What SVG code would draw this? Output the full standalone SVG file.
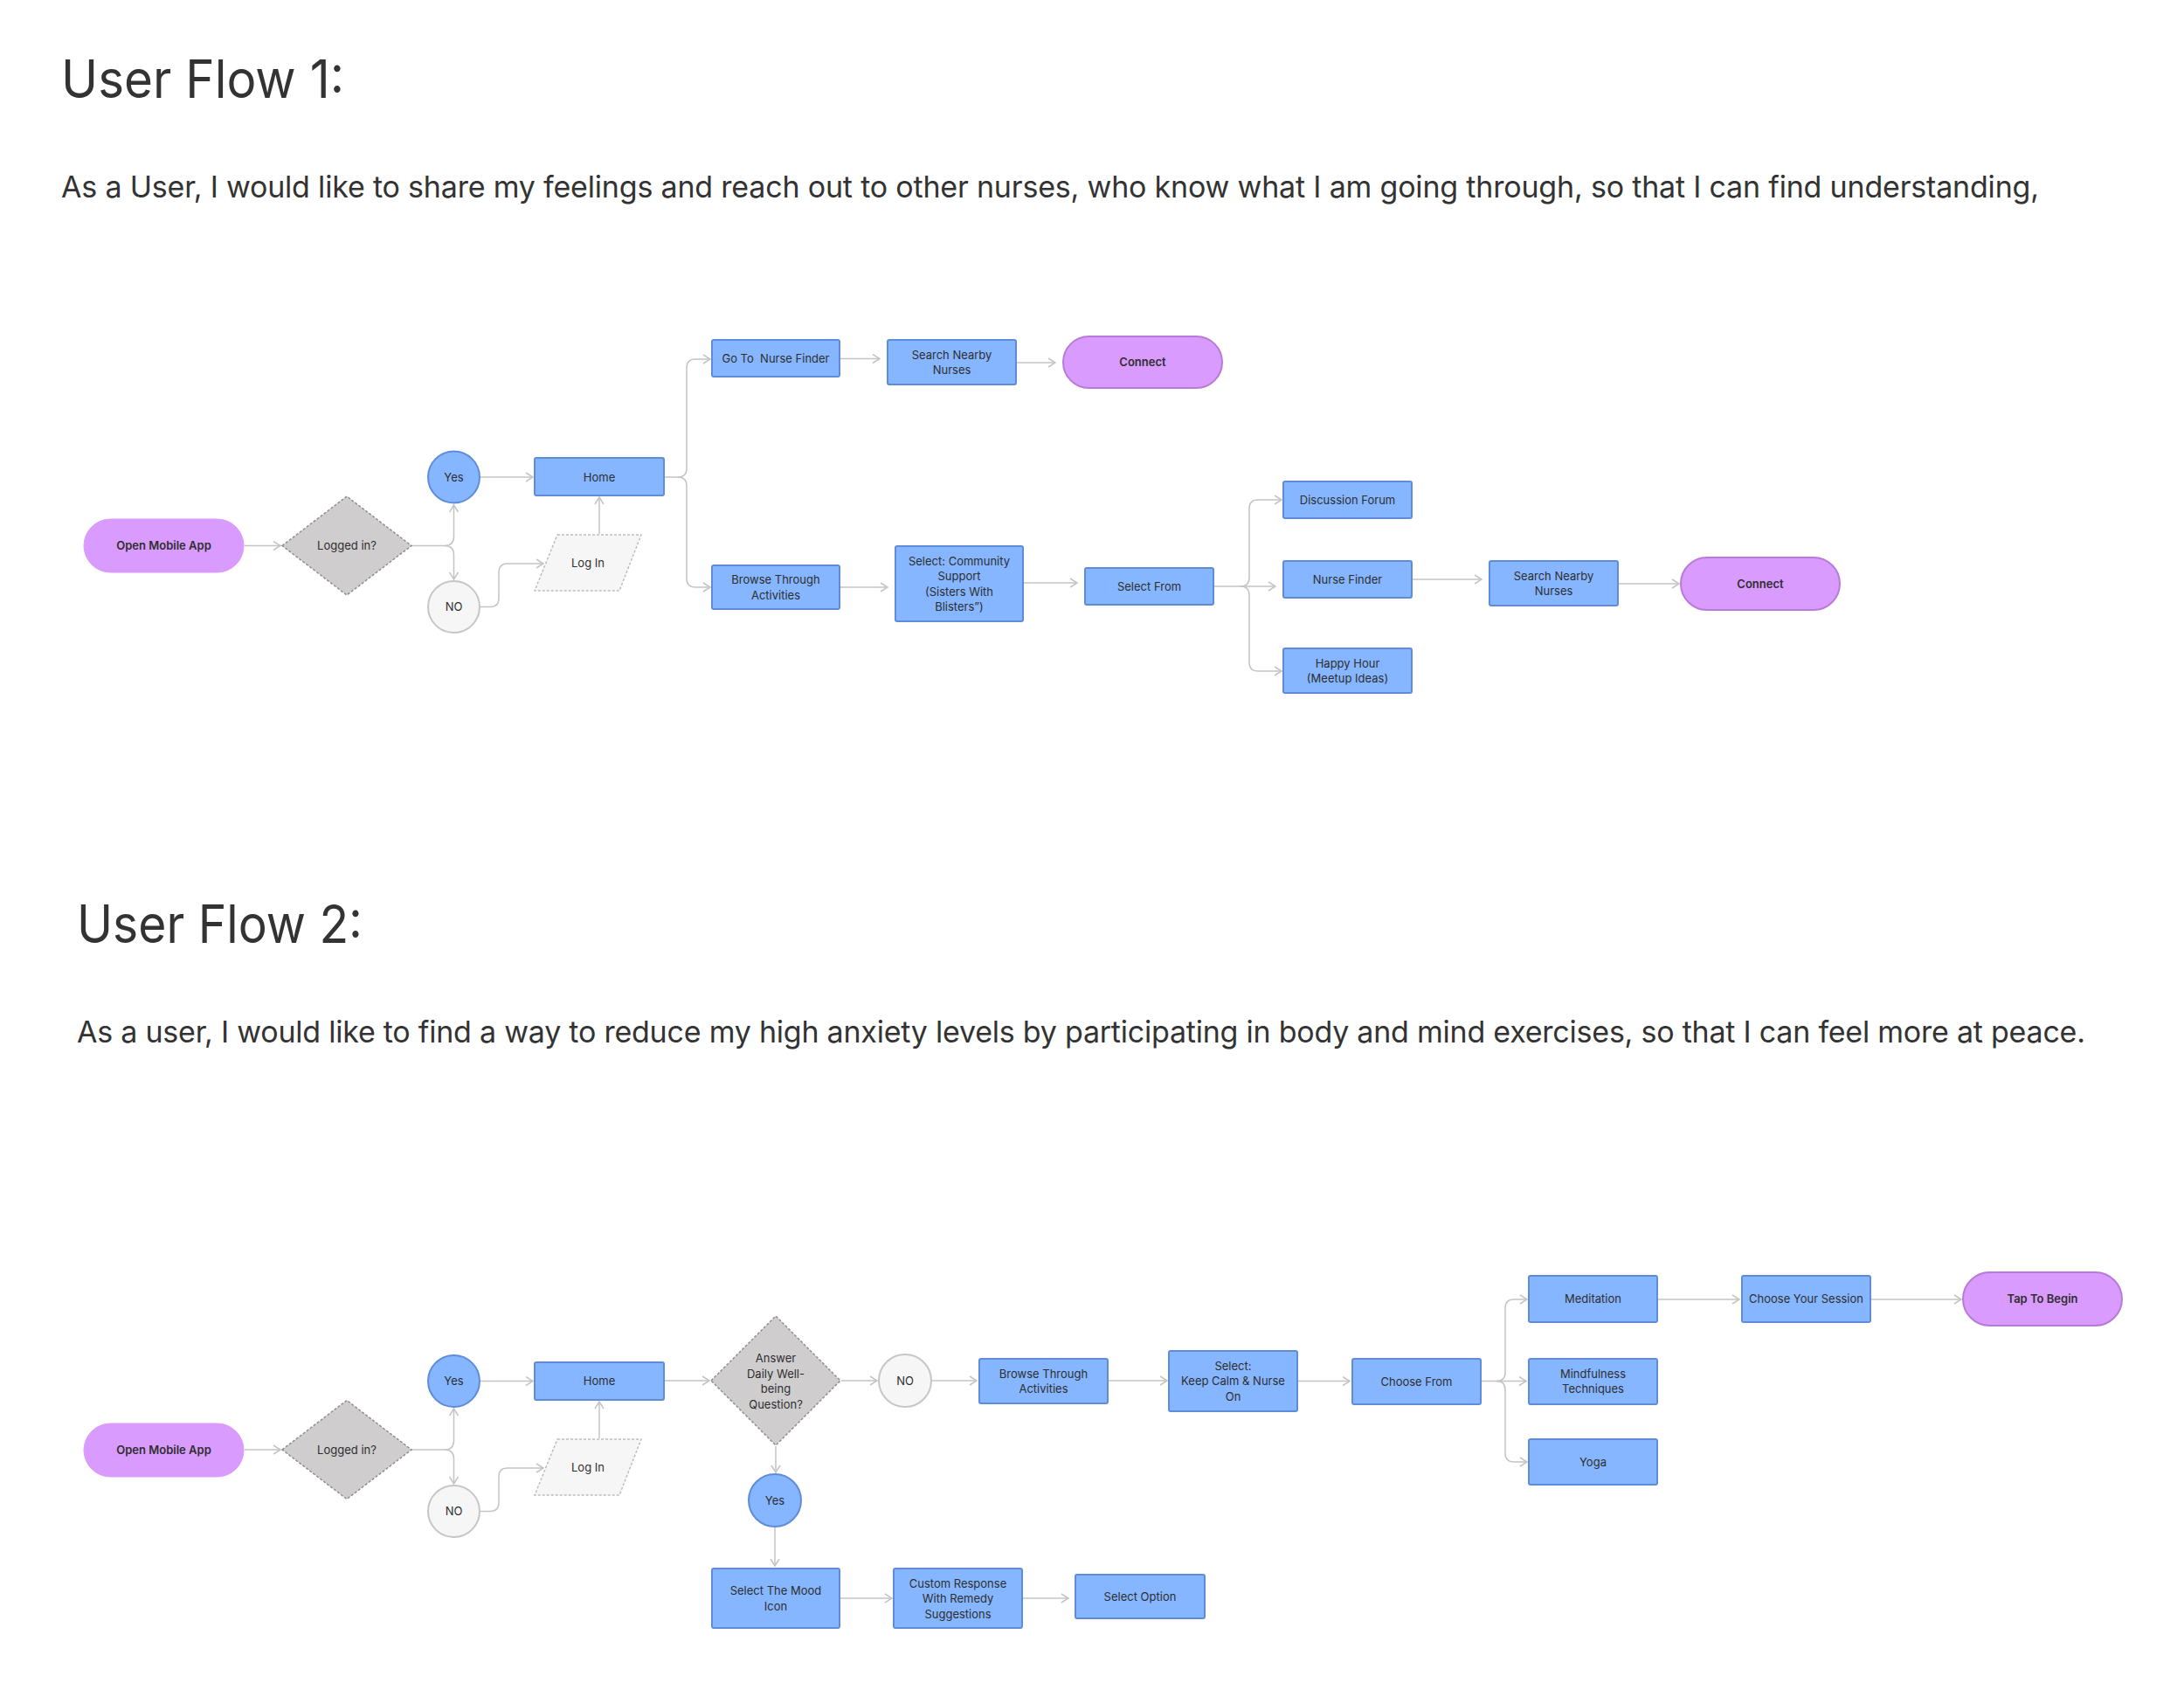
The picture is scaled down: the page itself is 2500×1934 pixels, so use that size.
<svg xmlns="http://www.w3.org/2000/svg" width="2500" height="1934" viewBox="0 0 2500 1934">
<defs>
<marker id="arr" viewBox="0 0 10 12" markerWidth="10" markerHeight="12" refX="9" refY="6" orient="auto" markerUnits="userSpaceOnUse">
<path d="M1,1 L9,6 L1,11" fill="none" stroke="#C4C4C4" stroke-width="1.5"/>
</marker>
<style>
text{font-family:Inter,"Noto Sans","Liberation Sans",sans-serif;fill:#2E2E2E}
.title{font-size:60px;fill:#333}
.sub{font-size:34px;fill:#333}
.lbl{font-size:13px;text-anchor:middle}
.bold{font-weight:600}
.box{fill:#86B6FF;stroke:#5E8CD8;stroke-width:2}
.pill{fill:#DA9BFF;stroke:#B87AD8;stroke-width:2}
.pill0{fill:#DA9BFF;stroke:#DA9BFF;stroke-width:1}
.yes{fill:#86B6FF;stroke:#5E8CD8;stroke-width:2}
.no{fill:#F6F6F6;stroke:#C6C6C6;stroke-width:2}
.dia{fill:#CFCDCE;stroke:#8E8E8E;stroke-width:1.5;stroke-dasharray:3 2}
.para{fill:#F6F6F6;stroke:#BDBDBD;stroke-width:1.5;stroke-dasharray:3 2}
.c{fill:none;stroke:#C4C4C4;stroke-width:1.5;marker-end:url(#arr)}
</style>
</defs>
<rect width="2500" height="1934" fill="#FFFFFF"/>

<text class="title" x="70" y="112" textLength="324" lengthAdjust="spacingAndGlyphs">User Flow 1:</text>
<text class="sub" x="70" y="226" textLength="2264">As a User, I would like to share my feelings and reach out to other nurses, who know what I am going through, so that I can find understanding,</text>
<text class="title" x="88" y="1079" textLength="327" lengthAdjust="spacingAndGlyphs">User Flow 2:</text>
<text class="sub" x="88" y="1193" textLength="2299">As a user, I would like to find a way to reduce my high anxiety levels by participating in body and mind exercises, so that I can feel more at peace.</text>

<g id="connectors">
<!-- flow 1 -->
<path class="c" d="M280,624.5 H321"/>
<path class="c" d="M471,624.5 H509 Q519.5,624.5 519.5,614 V578"/>
<path class="c" d="M509,624.5 Q519.5,624.5 519.5,635 V663"/>
<path class="c" d="M550,546 H610"/>
<path class="c" d="M550,694.5 H561 Q571,694.5 571,684.5 V655 Q571,645 581,645 H622"/>
<path class="c" d="M686,611 V569"/>
<path class="c" d="M761,546 H776 Q786,546 786,536 V421 Q786,411 796,411 H813"/>
<path class="c" d="M776,546 Q786,546 786,556 V662 Q786,672 796,672 H813"/>
<path class="c" d="M962,410.5 H1007"/>
<path class="c" d="M1164,415 H1208"/>
<path class="c" d="M962,672 H1016"/>
<path class="c" d="M1172,667 H1233"/>
<path class="c" d="M1390,671 H1420 Q1430,671 1430,661 V582 Q1430,572 1440,572 H1467"/>
<path class="c" d="M1420,671 H1460"/>
<path class="c" d="M1420,671 Q1430,671 1430,681 V758 Q1430,768 1440,768 H1467"/>
<path class="c" d="M1617,663 H1696"/>
<path class="c" d="M1853,668 H1922"/>
<!-- flow 2 -->
<path class="c" d="M280,1659 H321"/>
<path class="c" d="M471,1659 H509 Q519.5,1659 519.5,1648.5 V1612"/>
<path class="c" d="M509,1659 Q519.5,1659 519.5,1669.5 V1698"/>
<path class="c" d="M550,1580.5 H610"/>
<path class="c" d="M550,1729.5 H561 Q571,1729.5 571,1719.5 V1690 Q571,1680 581,1680 H622"/>
<path class="c" d="M686,1646 V1604"/>
<path class="c" d="M761,1580 H812"/>
<path class="c" d="M963,1580 H1004"/>
<path class="c" d="M1067,1580 H1118"/>
<path class="c" d="M1269,1580 H1336"/>
<path class="c" d="M1486,1580.5 H1545"/>
<path class="c" d="M1696,1580.5 H1713 Q1723,1580.5 1723,1570.5 V1497 Q1723,1487 1733,1487 H1748"/>
<path class="c" d="M1713,1580.5 H1747"/>
<path class="c" d="M1713,1580.5 Q1723,1580.5 1723,1590.5 V1663 Q1723,1673 1733,1673 H1748"/>
<path class="c" d="M1898,1487 H1991"/>
<path class="c" d="M2142,1487 H2245"/>
<path class="c" d="M888,1655 V1685"/>
<path class="c" d="M887,1748 V1792"/>
<path class="c" d="M962,1829 H1021"/>
<path class="c" d="M1171,1829 H1223"/>
</g>

<!-- Flow 1 nodes -->
<g id="f1-open"><rect class="pill0" x="96" y="594" width="183" height="61" rx="30.5"/><text class="lbl bold" x="187.5" y="629">Open Mobile App</text></g>
<g id="f1-logged"><polygon class="dia" points="323,624.5 397,568 471,624.5 397,681"/><text class="lbl" x="397" y="629">Logged in?</text></g>
<g id="f1-yes"><circle class="yes" cx="519.5" cy="546" r="29.5"/><text class="lbl" x="519.5" y="550.5">Yes</text></g>
<g id="f1-no"><circle class="no" cx="519.5" cy="694.5" r="29.5"/><text class="lbl" x="519.5" y="699">NO</text></g>
<g id="f1-home"><rect class="box" x="612" y="524" width="148" height="43" rx="2"/><text class="lbl" x="686" y="550.5">Home</text></g>
<g id="f1-login"><polygon class="para" points="638,612 734,612 709,676 612,676"/><text class="lbl" x="673" y="649">Log In</text></g>
<g id="f1-goto"><rect class="box" x="815" y="389" width="146" height="42" rx="2"/><text class="lbl" x="888" y="415" xml:space="preserve">Go To  Nurse Finder</text></g>
<g id="f1-search1"><rect class="box" x="1016" y="389" width="147" height="51" rx="2"/><text class="lbl" x="1089.5" y="410.5">Search Nearby</text><text class="lbl" x="1089.5" y="428">Nurses</text></g>
<g id="f1-connect1"><rect class="pill" x="1217" y="385" width="182" height="59" rx="29.5"/><text class="lbl bold" x="1308" y="419">Connect</text></g>
<g id="f1-browse"><rect class="box" x="815" y="647" width="146" height="50" rx="2"/><text class="lbl" x="888" y="668">Browse Through</text><text class="lbl" x="888" y="685.5">Activities</text></g>
<g id="f1-community"><rect class="box" x="1025" y="625" width="146" height="86" rx="2"/><text class="lbl" x="1098" y="646.5">Select: Community</text><text class="lbl" x="1098" y="664">Support</text><text class="lbl" x="1098" y="681.5">(Sisters With</text><text class="lbl" x="1098" y="699">Blisters”)</text></g>
<g id="f1-selectfrom"><rect class="box" x="1242" y="650" width="147" height="42" rx="2"/><text class="lbl" x="1315.5" y="675.5">Select From</text></g>
<g id="f1-forum"><rect class="box" x="1469" y="551" width="147" height="42" rx="2"/><text class="lbl" x="1542.5" y="576.5">Discussion Forum</text></g>
<g id="f1-nursefinder"><rect class="box" x="1469" y="642" width="147" height="42" rx="2"/><text class="lbl" x="1542.5" y="667.5">Nurse Finder</text></g>
<g id="f1-happyhour"><rect class="box" x="1469" y="742" width="147" height="51" rx="2"/><text class="lbl" x="1542.5" y="763.5">Happy Hour</text><text class="lbl" x="1542.5" y="781">(Meetup Ideas)</text></g>
<g id="f1-search2"><rect class="box" x="1705" y="642" width="147" height="51" rx="2"/><text class="lbl" x="1778.5" y="663.5">Search Nearby</text><text class="lbl" x="1778.5" y="681">Nurses</text></g>
<g id="f1-connect2"><rect class="pill" x="1924" y="638" width="182" height="60" rx="30"/><text class="lbl bold" x="2015" y="672.5">Connect</text></g>

<!-- Flow 2 nodes -->
<g id="f2-open"><rect class="pill0" x="96" y="1629" width="183" height="61" rx="30.5"/><text class="lbl bold" x="187.5" y="1663.5">Open Mobile App</text></g>
<g id="f2-logged"><polygon class="dia" points="323,1659 397,1602.5 471,1659 397,1715.5"/><text class="lbl" x="397" y="1663.5">Logged in?</text></g>
<g id="f2-yes"><circle class="yes" cx="519.5" cy="1580.5" r="29.5"/><text class="lbl" x="519.5" y="1585">Yes</text></g>
<g id="f2-no"><circle class="no" cx="519.5" cy="1729.5" r="29.5"/><text class="lbl" x="519.5" y="1734">NO</text></g>
<g id="f2-home"><rect class="box" x="612" y="1559" width="148" height="43" rx="2"/><text class="lbl" x="686" y="1585">Home</text></g>
<g id="f2-login"><polygon class="para" points="638,1647 734,1647 709,1711 612,1711"/><text class="lbl" x="673" y="1684">Log In</text></g>
<g id="f2-answer"><polygon class="dia" points="814,1580 888,1506 962,1580 888,1654"/><text class="lbl" x="888" y="1559">Answer</text><text class="lbl" x="888" y="1576.5">Daily Well-</text><text class="lbl" x="888" y="1594">being</text><text class="lbl" x="888" y="1611.5">Question?</text></g>
<g id="f2-no2"><circle class="no" cx="1036" cy="1580" r="30"/><text class="lbl" x="1036" y="1584.5">NO</text></g>
<g id="f2-browse"><rect class="box" x="1121" y="1555" width="147" height="51" rx="2"/><text class="lbl" x="1194.5" y="1576.5">Browse Through</text><text class="lbl" x="1194.5" y="1594">Activities</text></g>
<g id="f2-keepcalm"><rect class="box" x="1338" y="1546" width="147" height="69" rx="2"/><text class="lbl" x="1411.5" y="1567.5">Select:</text><text class="lbl" x="1411.5" y="1585">Keep Calm &amp; Nurse</text><text class="lbl" x="1411.5" y="1602.5">On</text></g>
<g id="f2-choosefrom"><rect class="box" x="1548" y="1555" width="147" height="52" rx="2"/><text class="lbl" x="1621.5" y="1585.5">Choose From</text></g>
<g id="f2-meditation"><rect class="box" x="1750" y="1460" width="147" height="53" rx="2"/><text class="lbl" x="1823.5" y="1491">Meditation</text></g>
<g id="f2-mindfulness"><rect class="box" x="1750" y="1555" width="147" height="52" rx="2"/><text class="lbl" x="1823.5" y="1576.5">Mindfulness</text><text class="lbl" x="1823.5" y="1594">Techniques</text></g>
<g id="f2-yoga"><rect class="box" x="1750" y="1647" width="147" height="52" rx="2"/><text class="lbl" x="1823.5" y="1677.5">Yoga</text></g>
<g id="f2-session"><rect class="box" x="1994" y="1460" width="147" height="53" rx="2"/><text class="lbl" x="2067.5" y="1491">Choose Your Session</text></g>
<g id="f2-tap"><rect class="pill" x="2247" y="1456" width="182" height="61" rx="30.5"/><text class="lbl bold" x="2338" y="1491">Tap To Begin</text></g>
<g id="f2-yes2"><circle class="yes" cx="887" cy="1717" r="30"/><text class="lbl" x="887" y="1721.5">Yes</text></g>
<g id="f2-mood"><rect class="box" x="815" y="1795" width="146" height="68" rx="2"/><text class="lbl" x="888" y="1825">Select The Mood</text><text class="lbl" x="888" y="1842.5">Icon</text></g>
<g id="f2-custom"><rect class="box" x="1023" y="1795" width="147" height="68" rx="2"/><text class="lbl" x="1096.5" y="1816.5">Custom Response</text><text class="lbl" x="1096.5" y="1834">With Remedy</text><text class="lbl" x="1096.5" y="1851.5">Suggestions</text></g>
<g id="f2-option"><rect class="box" x="1231" y="1802" width="148" height="50" rx="2"/><text class="lbl" x="1305" y="1831.5">Select Option</text></g>
</svg>
